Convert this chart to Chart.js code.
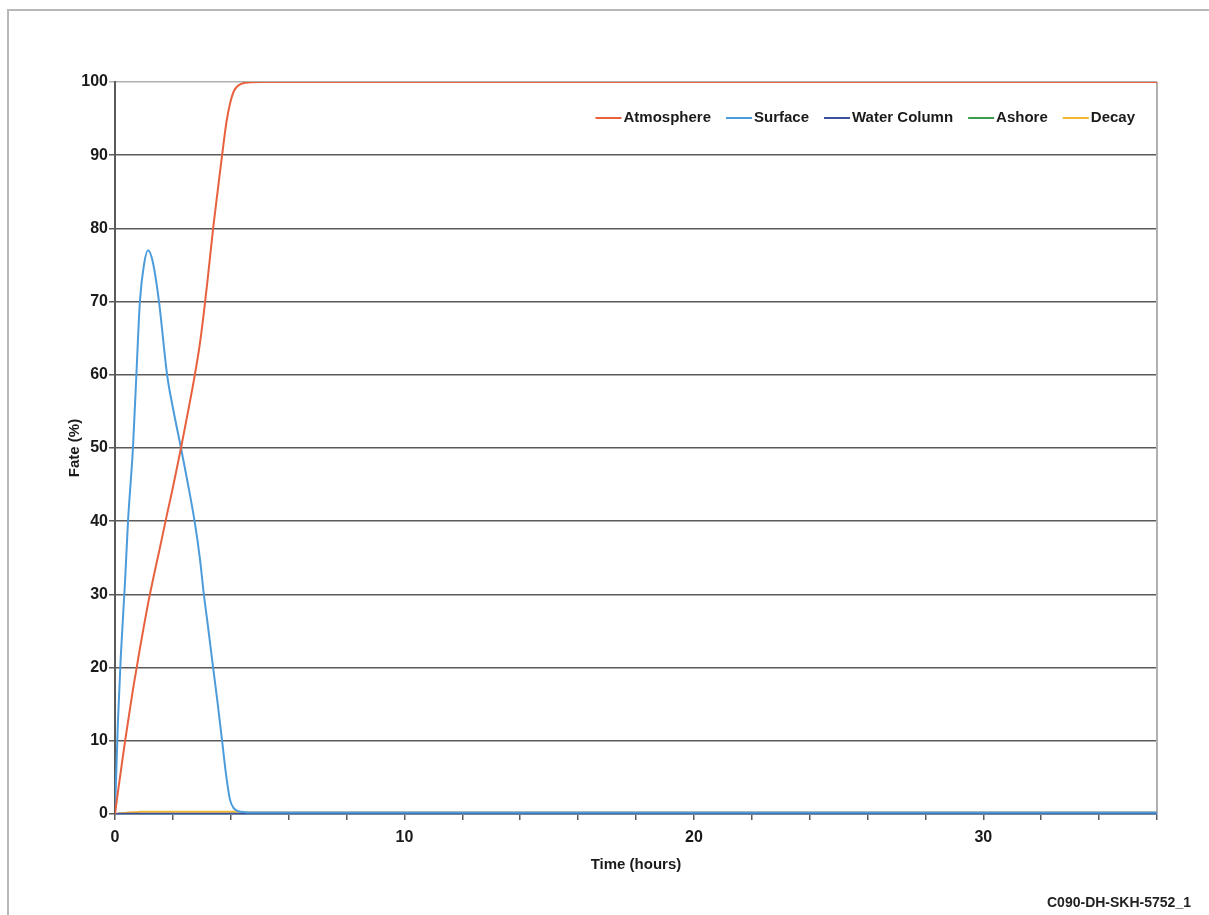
<!DOCTYPE html>
<html>
<head>
<meta charset="utf-8">
<script src="https://cdn.jsdelivr.net/npm/chart.js@4.4.1/dist/chart.umd.min.js"></script>
<style>
  html, body { margin: 0; padding: 0; background: #fff; overflow: hidden; }
  #wrap { position: relative; width: 1209px; height: 915px; }
  #frame { position: absolute; left: 7px; top: 9px; width: 1400px; height: 1100px; border: 2px solid #b8b8b8; box-sizing: border-box; }
  #c { position: absolute; left: 0; top: 0; }
  #tag { position: absolute; left: 1047px; top: 894px; font: bold 14px "Liberation Sans", Arial, sans-serif; color: #222; white-space: nowrap; }
</style>
</head>
<body>
<div id="wrap">
  <div id="frame"></div>
  <canvas id="c" width="1209" height="915"></canvas>
  <div id="tag">C090-DH-SKH-5752_1</div>
</div>
<script>
// time axis (hours) shared by every series
const timeHours = [0, 0.1, 0.2, 0.35, 0.45, 0.62, 0.75, 0.86, 1.0, 1.14, 1.3, 1.52, 1.8, 2.0, 2.28, 2.5, 2.75, 2.93, 3.07, 3.2, 3.39, 3.55, 3.7, 3.85, 3.97, 4.1, 4.25, 4.5, 5, 6, 8, 12, 16, 20, 24, 28, 32, 36];

// fate (%) per compartment
const atmosphere = [0, 3, 5.8, 10, 12.6, 17, 20, 22.6, 25.7, 28.7, 31.8, 35.8, 41, 44.6, 50, 54.5, 59.8, 64.2, 68.5, 73, 80, 85.2, 90, 94.5, 97, 98.7, 99.5, 99.9, 100, 100, 100, 100, 100, 100, 100, 100, 100, 100];
const surface = [0, 12.5, 21.5, 32, 40, 50, 61, 70, 75, 77, 75.5, 70, 60, 55.5, 50, 45.5, 40, 35, 30, 26, 20, 15, 10, 5, 2, 0.8, 0.4, 0.25, 0.2, 0.2, 0.2, 0.2, 0.2, 0.2, 0.2, 0.2, 0.2, 0.2];
const waterColumn = [0, 0.02, 0.03, 0.04, 0.05, 0.05, 0.05, 0.05, 0.05, 0.05, 0.05, 0.05, 0.05, 0.05, 0.05, 0.05, 0.05, 0.05, 0.05, 0.05, 0.05, 0.05, 0.05, 0.05, 0.05, 0.05, 0.05, 0.05, 0.05, 0.05, 0.05, 0.05, 0.05, 0.05, 0.05, 0.05, 0.05, 0.05];
const ashore = [0, 0, 0, 0, 0, 0, 0, 0, 0, 0, 0, 0, 0, 0, 0, 0, 0, 0, 0, 0, 0, 0, 0, 0, 0, 0, 0, 0, 0, 0, 0, 0, 0, 0, 0, 0, 0, 0];
const decay = [0, 0.05, 0.1, 0.15, 0.2, 0.25, 0.25, 0.3, 0.3, 0.3, 0.3, 0.3, 0.3, 0.3, 0.3, 0.3, 0.3, 0.3, 0.3, 0.3, 0.3, 0.3, 0.3, 0.3, 0.3, 0.3, 0.3, 0.2, 0.2, 0.2, 0.2, 0.2, 0.2, 0.2, 0.2, 0.2, 0.2, 0.2];

const AXIS = '#1a1a1a';
const GRID = '#5a5a5a';
const EDGE = '#b0b0b0';

const pts = (vals) => vals.map((v, i) => ({ x: timeHours[i], y: v }));

function series(label, vals, color) {
  return {
    label, data: pts(vals), borderColor: color, backgroundColor: color,
    borderWidth: 2, pointRadius: 0, cubicInterpolationMode: 'monotone', fill: false,
  };
}

// legend drawn inside the plot, top right, like the original
const innerLegend = {
  id: 'innerLegend',
  afterDraw(chart) {
    const ctx = chart.ctx;
    const area = chart.chartArea;
    const sets = chart.data.datasets;
    ctx.save();
    ctx.font = 'bold 15px "Liberation Sans", Arial, sans-serif';
    ctx.textBaseline = 'middle';
    const lineLen = 26, gap = 2, spacing = 15;
    let total = 0;
    for (const d of sets) total += lineLen + gap + ctx.measureText(d.label).width + spacing;
    total -= spacing;
    let x = area.right - 22 - total;
    const y = area.top + 36;
    for (const d of sets) {
      ctx.strokeStyle = d.borderColor;
      ctx.lineWidth = 2;
      ctx.beginPath();
      ctx.moveTo(x, y);
      ctx.lineTo(x + lineLen, y);
      ctx.stroke();
      x += lineLen + gap;
      ctx.fillStyle = AXIS;
      ctx.fillText(d.label, x, y);
      x += ctx.measureText(d.label).width + spacing;
    }
    ctx.restore();
  },
};

// thin grey edge on the right of the plot area
const rightEdge = {
  id: 'rightEdge',
  beforeDatasetsDraw(chart) {
    const { ctx, chartArea: a } = chart;
    ctx.save();
    ctx.strokeStyle = EDGE;
    ctx.lineWidth = 2;
    ctx.beginPath();
    ctx.moveTo(a.right, a.top);
    ctx.lineTo(a.right, a.bottom);
    ctx.stroke();
    ctx.restore();
  },
};

Chart.defaults.font.family = '"Liberation Sans", Arial, sans-serif';
Chart.defaults.font.size = 16;
Chart.defaults.font.weight = 'bold';
Chart.defaults.color = AXIS;

new Chart(document.getElementById('c'), {
  type: 'line',
  data: {
    datasets: [
      series('Atmosphere', atmosphere, '#e8613f'),
      series('Surface', surface, '#4c9cdb'),
      series('Water Column', waterColumn, '#3c4f9c'),
      series('Ashore', ashore, '#3d9a4f'),
      series('Decay', decay, '#f2b632'),
    ],
  },
  options: {
    responsive: false,
    animation: false,
    layout: { padding: { left: 66, top: 82, right: 52, bottom: 37 } },
    plugins: { legend: { display: false }, tooltip: { enabled: false } },
    scales: {
      x: {
        type: 'linear', min: 0, max: 36,
        afterFit: (s) => { s.height = 64; },
        ticks: { stepSize: 2, autoSkip: false, maxRotation: 0, padding: 8, color: AXIS,
          callback: (v) => (v % 10 === 0 ? v : '') },
        grid: { drawOnChartArea: false, drawTicks: true, tickLength: 6, color: GRID, lineWidth: 1.5 },
        border: { color: '#6f8aa0', width: 2 },
        title: { display: true, text: 'Time (hours)', color: AXIS, font: { size: 15 }, padding: { top: 4, bottom: 4 } },
      },
      y: {
        min: 0, max: 100,
        afterFit: (s) => { s.width = 49; },
        ticks: { stepSize: 10, padding: 1, color: AXIS },
        grid: {
          tickLength: 6, lineWidth: 1.5,
          color: (c) => (c.tick && c.tick.value === 100 ? EDGE : GRID),
        },
        border: { color: GRID, width: 2 },
        title: { display: true, text: 'Fate (%)', color: AXIS, font: { size: 15 }, padding: 0 },
      },
    },
  },
  plugins: [innerLegend, rightEdge],
});
</script>
</body>
</html>
